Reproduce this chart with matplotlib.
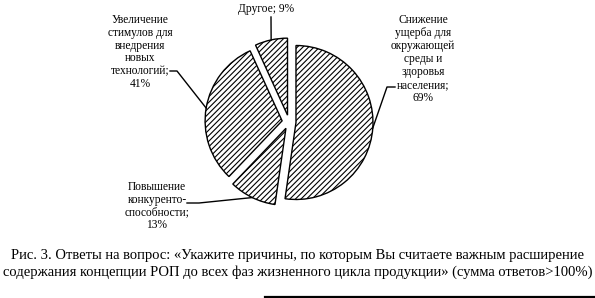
import numpy as np
import matplotlib
matplotlib.use("Agg")
from matplotlib import pyplot as plt

# values (share of answers, %)
values = [69, 13, 41, 9]
labels = ["Снижение\nущерба для\nокружающей\nсреды и\nздоровья\nнаселения;\n69%",
          "Повышение\nконкуренто-\nспособности;\n13%",
          "Увеличение\nстимулов для\nвнедрения\nновых\nтехнологий;\n41%",
          "Другое; 9%"]
caption = ("Рис. 3. Ответы на вопрос: «Укажите причины, по которым Вы считаете важным расширение\n"
           "содержания концепции РОП до всех фаз жизненного цикла продукции» (сумма ответов>100%)")

plt.rcParams['font.family'] = ['Liberation Serif', 'DejaVu Serif']
plt.rcParams['hatch.linewidth'] = 0.8

W, H = 595, 298
fig = plt.figure(figsize=(W / 100, H / 100), dpi=100)
ax = fig.add_axes([0, 0, 1, 1])

# pie centre / radius in pixels (y measured from the bottom)
cx, cy, R = 289, 176, 77
gap = 7  # explode offset, pixels

wedges, _ = ax.pie(values, startangle=90, counterclock=False,
                   explode=[gap] * len(values), radius=R, center=(cx, cy),
                   colors=['white'] * len(values), frame=True,
                   wedgeprops=dict(edgecolor='black', linewidth=1.0, hatch='//////'))
ax.set_xlim(0, W)
ax.set_ylim(0, H)
ax.set_aspect('equal')
ax.axis('off')

# label centres and leader line start points (pixels)
label_pos = [(423, 239), (157, 92), (140, 246), (266, 289)]
leader_start = [[(395, 211), (387, 211)],
                [(187, 95), (199, 95)],
                [(170, 227), (177, 227)],
                [(271, 281)]]

for w, lab, pos, start in zip(wedges, labels, label_pos, leader_start):
    ax.text(pos[0], pos[1], lab, ha='center', va='center', fontsize=8.3,
            linespacing=1.1, color='black')
    mid = np.deg2rad((w.theta1 + w.theta2) / 2)
    ex, ey = w.center[0] + R * np.cos(mid), w.center[1] + R * np.sin(mid)
    pts = start + [(ex, ey)]
    ax.plot([p[0] for p in pts], [p[1] for p in pts], color='black', lw=1.0)

ax.text(W / 2, 34, caption, ha='center', va='center', fontsize=10.5,
        linespacing=1.3, color='black')

ax.plot([0, 265], [0.5, 0.5], color='#888888', lw=0.6)
ax.plot([265, W], [0.8, 0.8], color='black', lw=1.6)

fig.savefig("out.png", dpi=100)
